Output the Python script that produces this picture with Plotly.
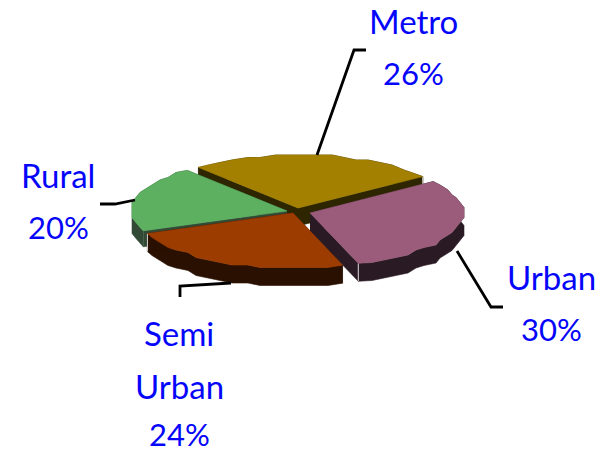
import math
import plotly.graph_objects as go

# Market split by location
categories = ["Metro", "Urban", "Semi Urban", "Rural"]
shares = [26, 30, 24, 20]

# Drawing style for each wedge
top_colors = ["#A38000", "#9B5C7B", "#9C3C00", "#5CB05F"]
wall_colors = ["#2E2600", "#2A1A24", "#2A1000", "#324A35"]
apex_x = [298, 310, 293, 287]
apex_y = [208, 213, 213, 211]
radius_x = [155, 153, 157, 155]
radius_y = [53, 53, 55, 53]
depth = [18, 18, 18, 16]
draw_order = [0, 3, 1, 2]

START_ANGLE = 130
STEP = 5
GRID_X = 4
GRID_Y = 2.5
BLUE = "#0505FA"
FONT = "Lato"
NAME_SIZE = 33
PCT_SIZE = 31

# Label lines and their centres on the page
label_lines = [
    (["Metro", "26%"], 413, [21, 73]),
    (["Urban", "30%"], 551, [277, 329]),
    (["Semi", "Urban", "24%"], 179, [333, 386, 434]),
    (["Rural", "20%"], 58, [175, 227]),
]
leader_x = [[317, 354, 366], [457, 491, 503], [231, 180, 180], [135, 115, 100]]
leader_y = [[155, 50, 50], [251, 307, 307], [283, 286, 297], [200, 204, 204]]


def snap(v, grid):
    return round(v / grid) * grid


def wedge_arc(i, a0, a1):
    # the rim is faceted: interior points sit on a coarse grid, end points stay exact
    n = max(2, int(abs(a0 - a1) / STEP))
    xs, ys = [], []
    for k in range(n + 1):
        a = math.radians(a0 + (a1 - a0) * k / n)
        x = apex_x[i] + radius_x[i] * math.cos(a)
        y = apex_y[i] - radius_y[i] * math.sin(a)
        if 0 < k < n:
            x, y = snap(x, GRID_X), snap(y, GRID_Y)
        xs.append(x)
        ys.append(y)
    return xs, ys


def polygon(xs, ys, color):
    return go.Scatter(
        x=xs, y=ys, mode="lines", fill="toself", fillcolor=color,
        line=dict(color=color, width=0.6),
        hoverinfo="skip", showlegend=False,
    )


total = sum(shares)
angles = []
current = START_ANGLE
for value in shares:
    angles.append((current, current - 360 * value / total))
    current = angles[-1][1]

fig = go.Figure()

for i in draw_order:
    a0, a1 = angles[i]
    ax, ay = wedge_arc(i, a0, a1)
    d = depth[i]
    cx, cy = apex_x[i], apex_y[i]

    # outer rim, then both cut faces, all extruded downward
    fig.add_trace(polygon(ax + ax[::-1], ay + [y + d for y in ay[::-1]], wall_colors[i]))
    for ex, ey in ((ax[0], ay[0]), (ax[-1], ay[-1])):
        fig.add_trace(polygon([cx, ex, ex, cx], [cy, ey, ey + d, cy + d], wall_colors[i]))
    # light corner edge where the lower cut meets the rim
    fig.add_trace(go.Scatter(
        x=[ax[-1], ax[-1]], y=[ay[-1], ay[-1] + d], mode="lines",
        line=dict(color="#D8D8D8", width=1), hoverinfo="skip", showlegend=False,
    ))
    # top face
    fig.add_trace(polygon([cx] + ax + [cx], [cy] + ay + [cy], top_colors[i]))

for lx, ly in zip(leader_x, leader_y):
    fig.add_trace(go.Scatter(
        x=lx, y=ly, mode="lines", line=dict(color="black", width=2.8),
        hoverinfo="skip", showlegend=False,
    ))

for lines, x, ys in label_lines:
    for text, y in zip(lines, ys):
        fig.add_annotation(
            x=x, y=y, text=text, showarrow=False, xanchor="center", yanchor="middle",
            font=dict(family=FONT, size=PCT_SIZE if text.endswith("%") else NAME_SIZE, color=BLUE),
        )

fig.update_layout(
    width=611, height=453, margin=dict(l=0, r=0, t=0, b=0),
    paper_bgcolor="white", plot_bgcolor="white", showlegend=False,
    xaxis=dict(range=[0, 611], visible=False, fixedrange=True),
    yaxis=dict(range=[453, 0], visible=False, fixedrange=True),
)

fig.write_html("out.html", config={"displayModeBar": False})
